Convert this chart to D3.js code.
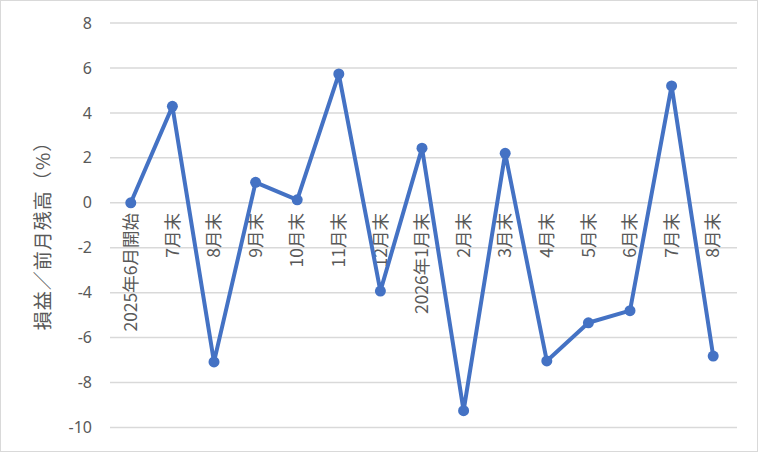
<!DOCTYPE html>
<html>
<head>
<meta charset="utf-8">
<script src="https://cdn.jsdelivr.net/npm/d3@7"></script>
<style>
  body { margin: 0; background: #fff; }
  text { font-family: "Noto Sans CJK JP", "Noto Sans", sans-serif; fill: #595959; }
</style>
</head>
<body>
<svg id="chart" width="758" height="452"></svg>
<script>
// categories (month-end labels)
var categories = ["2025年6月開始", "7月末", "8月末", "9月末", "10月末", "11月末", "12月末",
  "2026年1月末", "2月末", "3月末", "4月末", "5月末", "6月末", "7月末", "8月末"];
// P/L vs previous month balance (%)
var values = [0, 4.29, -7.08, 0.91, 0.13, 5.73, -3.93, 2.43, -9.25, 2.2, -7.04, -5.34, -4.8, 5.2, -6.82];
var yTicks = [8, 6, 4, 2, 0, -2, -4, -6, -8, -10];
var yTitle = "損益／前月残高（%）";

var svg = d3.select("#chart");
var W = 758, H = 452;

// outer frame
svg.append("rect")
  .attr("x", 0.5).attr("y", 0.5)
  .attr("width", W - 1).attr("height", H - 1)
  .attr("fill", "#fff")
  .attr("stroke", "#d9d9d9")
  .attr("stroke-width", 1);

var x = d3.scalePoint()
  .domain(d3.range(categories.length))
  .range([110, 734])
  .padding(0.5);

var y = d3.scaleLinear()
  .domain([-10, 8])
  .range([427.5, 23]);

// gridlines
svg.append("g")
  .selectAll("line")
  .data(yTicks)
  .enter().append("line")
    .attr("x1", 110).attr("x2", 737)
    .attr("y1", function(d) { return y(d); })
    .attr("y2", function(d) { return y(d); })
    .attr("stroke", "#d9d9d9")
    .attr("stroke-width", 1.5);

// y axis labels (plain hyphen minus like Excel)
var yAxis = d3.axisLeft(y)
  .tickValues(yTicks)
  .tickSize(0)
  .tickPadding(0)
  .tickFormat(function(d) { return String(d); });
var yg = svg.append("g")
  .attr("transform", "translate(92,0)")
  .call(yAxis);
yg.select(".domain").remove();
yg.selectAll("text")
  .attr("font-size", 16)
  .attr("fill", "#595959")
  .style("font-family", "'Noto Sans', sans-serif");

// y axis title
svg.append("text")
  .attr("transform", "translate(43,231) rotate(-90)")
  .attr("text-anchor", "middle")
  .attr("dy", "0.35em")
  .attr("font-size", 19)
  .attr("letter-spacing", 1)
  .text(yTitle);

// x labels, rotated, sitting under the zero line
svg.append("g")
  .selectAll("text")
  .data(categories)
  .enter().append("text")
    .attr("transform", function(d, i) { return "translate(" + x(i) + ",213) rotate(-90)"; })
    .attr("text-anchor", "end")
    .attr("dy", "0.35em")
    .attr("font-size", 17.5)
    .text(function(d) { return d; });

// series line
var line = d3.line()
  .x(function(d, i) { return x(i); })
  .y(function(d) { return y(d); });

svg.append("path")
  .datum(values)
  .attr("d", line)
  .attr("fill", "none")
  .attr("stroke", "#4472c4")
  .attr("stroke-width", 4)
  .attr("stroke-linejoin", "round");

svg.append("g")
  .selectAll("circle")
  .data(values)
  .enter().append("circle")
    .attr("cx", function(d, i) { return x(i); })
    .attr("cy", function(d) { return y(d); })
    .attr("r", 5.5)
    .attr("fill", "#4472c4");
</script>
</body>
</html>
